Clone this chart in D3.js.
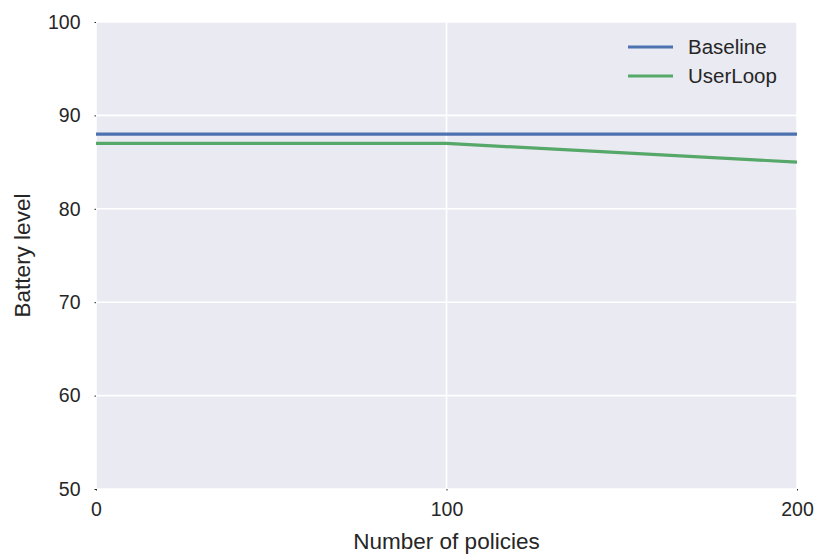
<!DOCTYPE html>
<html lang="en">
<head>
<meta charset="utf-8">
<title>Battery level vs number of policies</title>
<script src="https://d3js.org/d3.v7.min.js"></script>
<style>
  body { margin: 0; background: #fff; }
  text { font-family: "Liberation Sans", Arial, sans-serif; fill: #262626; }
</style>
</head>
<body>
<script>
// data
var policies = [0, 100, 200];
var baseline = [88, 88, 88];
var userLoop = [87, 87, 85];
var seriesNames = ["Baseline", "UserLoop"];
var xTicks = [0, 100, 200];
var yTicks = [50, 60, 70, 80, 90, 100];

var W = 818, H = 556;
var margin = {top: 22, right: 21, bottom: 67, left: 96};
var width = W - margin.left - margin.right,
    height = H - margin.top - margin.bottom;

var svg = d3.select("body").append("svg")
    .attr("width", W)
    .attr("height", H);

var g = svg.append("g")
    .attr("transform", "translate(" + margin.left + "," + margin.top + ")");

var x = d3.scaleLinear().domain([0, 200]).range([0, width]);
var y = d3.scaleLinear().domain([50, 100]).range([height, 0]);

// background
g.append("rect")
    .attr("width", width)
    .attr("height", height)
    .attr("fill", "#EAEAF2");

// grid
g.selectAll("line.gy").data(yTicks).enter().append("line")
    .attr("x1", 0).attr("x2", width)
    .attr("y1", function(d){ return y(d); })
    .attr("y2", function(d){ return y(d); })
    .attr("stroke", "#fff").attr("stroke-width", 1.6);
g.selectAll("line.gx").data(xTicks).enter().append("line")
    .attr("y1", 0).attr("y2", height)
    .attr("x1", function(d){ return x(d); })
    .attr("x2", function(d){ return x(d); })
    .attr("stroke", "#fff").attr("stroke-width", 1.6);

// axes
var xAxis = g.append("g")
    .attr("transform", "translate(0," + height + ")")
    .call(d3.axisBottom(x).tickValues(xTicks).tickSize(1.5).tickPadding(11).tickFormat(d3.format("d")));
var yAxis = g.append("g")
    .call(d3.axisLeft(y).tickValues(yTicks).tickSize(1.5).tickPadding(14).tickFormat(d3.format("d")));
[xAxis, yAxis].forEach(function(a){
  a.select(".domain").remove();
  a.selectAll(".tick line").attr("stroke", "#262626");
  a.selectAll("text").style("font-size", "19.5px")
    .style("font-family", "'Liberation Sans', Arial, sans-serif").attr("fill", "#262626");
});
xAxis.selectAll("text").attr("dy", "0.72em");

// lines
var colors = ["#4C72B0", "#55A868"];
var data = [baseline, userLoop];
var line = d3.line()
    .x(function(d, i){ return x(policies[i]); })
    .y(function(d){ return y(d); });

g.selectAll("path.series").data(data).enter().append("path")
    .attr("class", "series")
    .attr("d", line)
    .attr("fill", "none")
    .attr("stroke", function(d, i){ return colors[i]; })
    .attr("stroke-width", 3.2);

// legend
var legend = g.append("g").attr("transform", "translate(532,25)");
seriesNames.forEach(function(name, i){
  var row = legend.append("g").attr("transform", "translate(0," + (i * 29) + ")");
  row.append("line")
      .attr("x1", 0).attr("x2", 45)
      .attr("stroke", colors[i]).attr("stroke-width", 3.2);
  row.append("text")
      .attr("x", 60).attr("y", 0).attr("dy", "0.36em")
      .style("font-size", "20.5px")
      .text(name);
});

// axis labels
svg.append("text")
    .attr("x", margin.left + width / 2)
    .attr("y", 549)
    .attr("text-anchor", "middle")
    .style("font-size", "22.5px")
    .text("Number of policies");
svg.append("text")
    .attr("transform", "translate(30," + (margin.top + height / 2) + ") rotate(-90)")
    .attr("text-anchor", "middle")
    .style("font-size", "22.5px")
    .text("Battery level");
</script>
</body>
</html>
